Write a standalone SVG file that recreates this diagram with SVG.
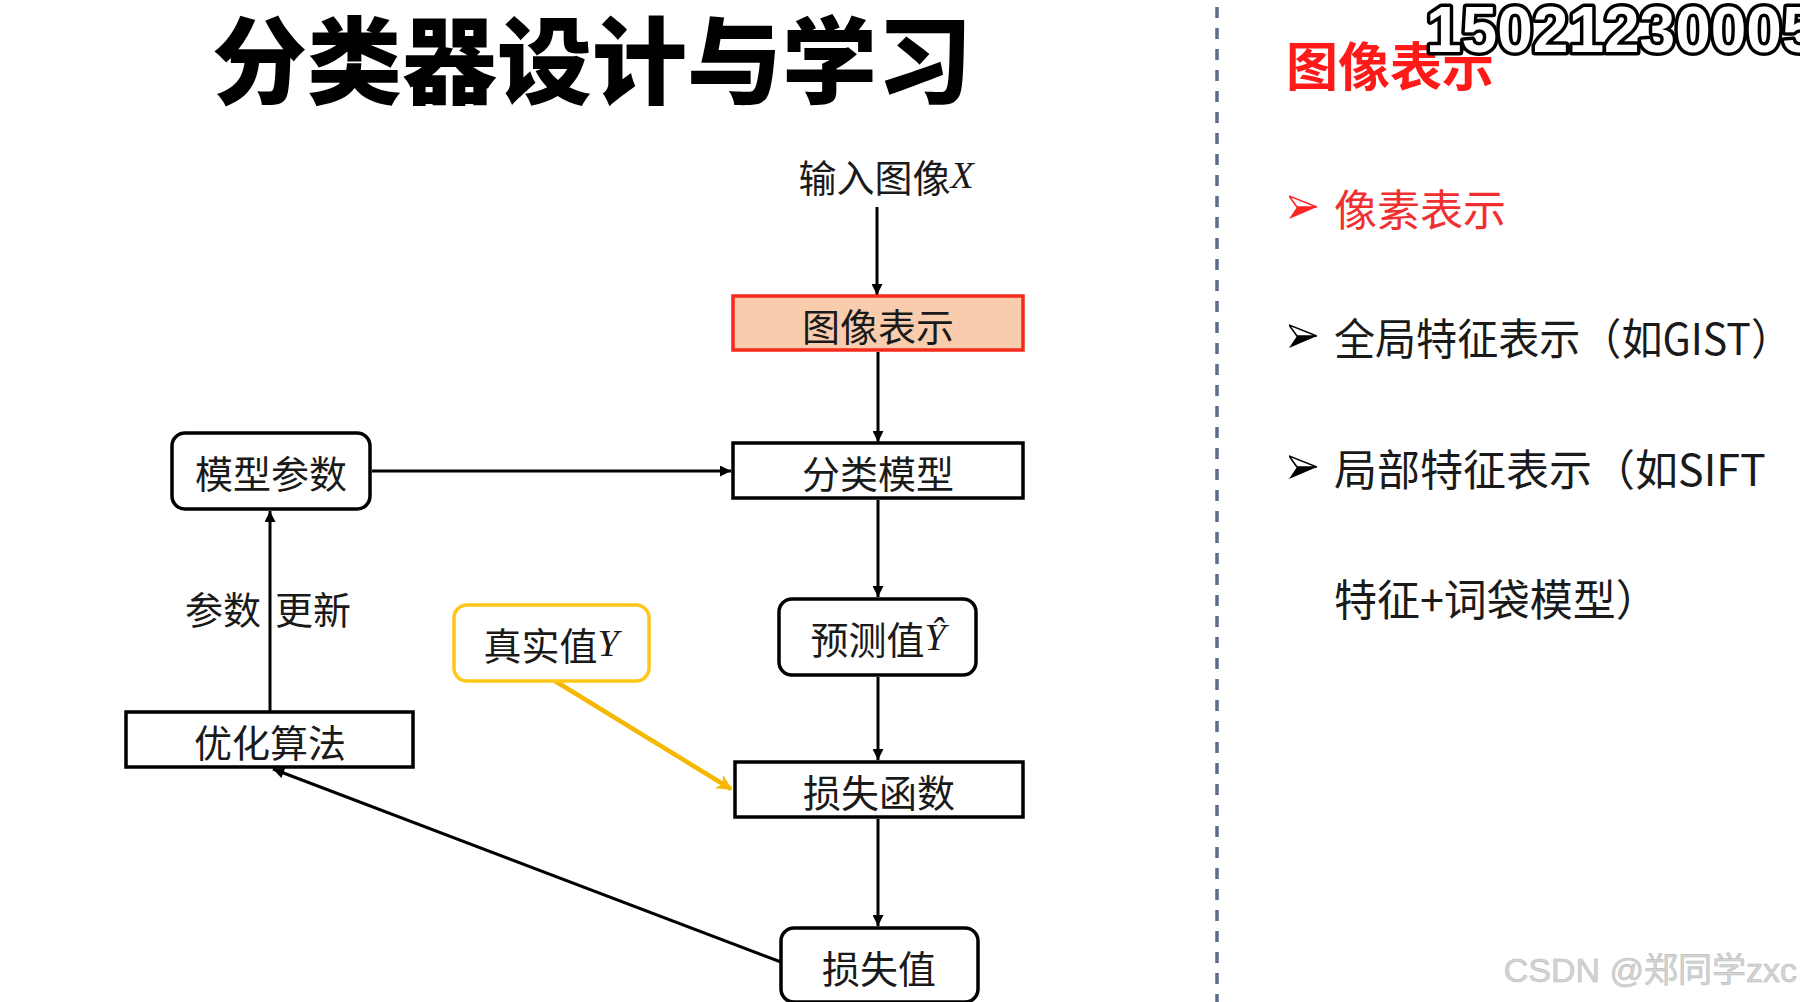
<svg xmlns="http://www.w3.org/2000/svg" width="1800" height="1002" viewBox="0 0 1800 1002">
<defs>
<style>
.cjk{font-family:"Noto Sans CJK SC","Noto Sans",sans-serif;}
.lbl{font-family:"Noto Sans CJK SC","Noto Sans",sans-serif;font-size:38px;fill:#1a1a1a;text-anchor:middle;dominant-baseline:central;}
.it{font-family:"Liberation Serif",serif;font-style:italic;}
.box{fill:#ffffff;stroke:#000;stroke-width:3.5;}
.conn{stroke:#000;stroke-width:3;fill:none;}
.list{font-family:"Noto Sans CJK SC","Noto Sans",sans-serif;font-size:43px;fill:#1a1a1a;dominant-baseline:central;}
</style>
<marker id="ah" viewBox="0 0 10 10" refX="10" refY="5" markerWidth="12" markerHeight="11" markerUnits="userSpaceOnUse" orient="auto">
<path d="M0,0 L10,5 L0,10 z" fill="#000"/>
</marker>
<marker id="ahy" viewBox="0 0 10 10" refX="9" refY="5" markerWidth="18" markerHeight="16" markerUnits="userSpaceOnUse" orient="auto">
<path d="M0,0 L10,5 L0,10 L3,5 z" fill="#f5b700"/>
</marker>
<symbol id="bullet" viewBox="0 0 28 28">
<path d="M0,3 L28,14 L8,14 z" fill="none" stroke="currentColor" stroke-width="1.6" stroke-linejoin="round"/>
<path d="M8,14 L28,14 L0,26 z" fill="currentColor"/>
</symbol>
</defs>
<rect width="1800" height="1002" fill="#ffffff"/>

<text x="212" y="97" class="cjk" font-size="95" font-weight="900" fill="#000">分类器设计与学习</text>

<g id="connectors">
<line class="conn" x1="877" y1="207" x2="877" y2="295" marker-end="url(#ah)"/>
<line class="conn" x1="878" y1="352" x2="878" y2="442" marker-end="url(#ah)"/>
<line class="conn" x1="372" y1="471" x2="731" y2="471" marker-end="url(#ah)"/>
<line class="conn" x1="878" y1="500" x2="878" y2="597" marker-end="url(#ah)"/>
<line class="conn" x1="878" y1="677" x2="878" y2="760" marker-end="url(#ah)"/>
<line class="conn" x1="878" y1="819" x2="878" y2="926" marker-end="url(#ah)"/>
<line class="conn" x1="781" y1="962" x2="273" y2="769" marker-end="url(#ah)"/>
<line class="conn" x1="270" y1="711" x2="270" y2="511" marker-end="url(#ah)"/>
<line x1="555" y1="681" x2="731" y2="789" stroke="#f5b700" stroke-width="4.5" marker-end="url(#ahy)"/>
</g>

<g id="node-input">
<text x="886" y="175" class="lbl">输入图像<tspan class="it">X</tspan></text>
</g>
<g id="node-repr">
<rect x="733" y="296" width="290" height="54" fill="#f9ccae" stroke="#f52a1a" stroke-width="3.5"/>
<text x="878" y="324" class="lbl">图像表示</text>
</g>
<g id="node-model">
<rect class="box" x="733" y="443" width="290" height="55"/>
<text x="878" y="471" class="lbl">分类模型</text>
</g>
<g id="node-params">
<rect class="box" x="172" y="433" width="198" height="76" rx="13"/>
<text x="271" y="471" class="lbl">模型参数</text>
</g>
<g id="node-pred">
<rect class="box" x="779" y="599" width="197" height="76" rx="13"/>
<text x="878" y="637" class="lbl">预测值<tspan class="it">Ŷ</tspan></text>
</g>
<g id="node-true">
<rect x="454" y="605" width="195" height="76" rx="13" fill="#fff" stroke="#ffc61a" stroke-width="3.5"/>
<text x="551" y="643" class="lbl">真实值<tspan class="it">Y</tspan></text>
</g>
<g id="node-loss-fn">
<rect class="box" x="735" y="762" width="288" height="55"/>
<text x="879" y="790" class="lbl">损失函数</text>
</g>
<g id="node-loss-val">
<rect class="box" x="781" y="928" width="197" height="74" rx="13"/>
<text x="879" y="966" class="lbl">损失值</text>
</g>
<g id="node-optim">
<rect class="box" x="126" y="712" width="287" height="55"/>
<text x="270" y="740" class="lbl">优化算法</text>
</g>
<g id="label-update">
<text x="223" y="607" class="lbl">参数</text>
<text x="313" y="607" class="lbl">更新</text>
</g>

<line x1="1217" y1="7" x2="1217" y2="1002" stroke="#5b6b88" stroke-width="3.5" stroke-dasharray="11 10"/>

<g id="right-panel">
<text x="1286" y="86" class="cjk" font-size="52" font-weight="bold" fill="#ff1a1a">图像表示</text>
<use href="#bullet" x="1289" y="193" width="28" height="28" style="color:#f22"/>
<text x="1334" y="207" class="list" style="fill:#f03030">像素表示</text>
<use href="#bullet" x="1289" y="322" width="28" height="28" style="color:#000"/>
<text x="1334" y="336" class="list" textLength="458" lengthAdjust="spacingAndGlyphs">全局特征表示（如GIST）</text>
<use href="#bullet" x="1289" y="453" width="28" height="28" style="color:#000"/>
<text x="1334" y="467" class="list">局部特征表示（如SIFT</text>
<text x="1334" y="597" class="list">特征+词袋模型）</text>
</g>

<text x="1426" y="52" font-family="Liberation Sans, Arial, sans-serif" font-size="64" font-weight="bold" fill="#fff" stroke="#000" stroke-width="7" paint-order="stroke" stroke-linejoin="round">15021230005</text>

<text x="1797" y="982" text-anchor="end" font-family="Liberation Sans, Noto Sans CJK SC, sans-serif" font-size="34" fill="#d4d4d4" stroke="#bdbdbd" stroke-width="0.6">CSDN @郑同学zxc</text>
</svg>
